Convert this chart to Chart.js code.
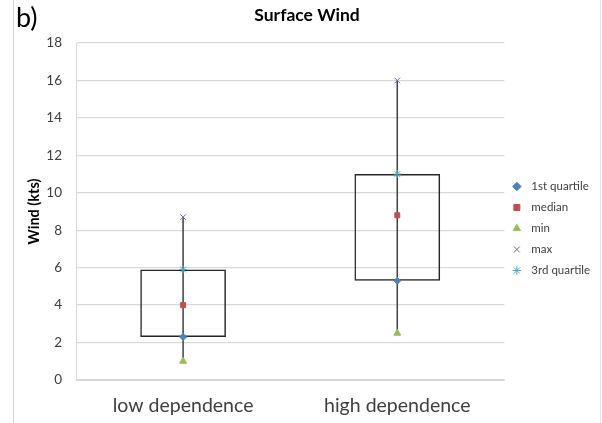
<!DOCTYPE html>
<html><head><meta charset="utf-8">
<script src="https://cdn.jsdelivr.net/npm/chart.js@4"></script>
<style>
html,body{margin:0;padding:0;background:#fff;}
#wrap{position:relative;width:602px;height:423px;overflow:hidden;}
#lbl{position:absolute;left:16px;top:1px;font:27px Lato, sans-serif;color:#000;line-height:32px;}
#bl{position:absolute;left:13px;top:0;width:1px;height:423px;background:#d4d4d4;}
#br{position:absolute;left:600px;top:0;width:1px;height:423px;background:#e4e4e4;}
canvas{position:absolute;left:0;top:0;}
</style></head>
<body><div id="wrap"><canvas id="c" width="602" height="423"></canvas><div id="bl"></div><div id="br"></div><div id="lbl">b)</div></div>
<script>
const categories = ['low dependence', 'high dependence'];
const q1 = [2.3, 5.3];
const median = [4.0, 8.8];
const minv = [1.0, 2.5];
const maxv = [8.7, 16.0];
const q3 = [5.9, 11.0];
const yTicks = [0, 2, 4, 6, 8, 10, 12, 14, 16, 18];

const FONT = 'Lato, "Open Sans", sans-serif';
const boxes = categories.map((c, i) => [q1[i], q3[i]]);
const whiskers = categories.map((c, i) => [minv[i], maxv[i]]);

const markerSet = (label, data, style, color, radius) => ({
  type: 'line', label, data, showLine: false,
  pointStyle: style, pointRadius: radius, pointHoverRadius: radius,
  backgroundColor: color, borderColor: color, pointBorderWidth: 1, order: 0
});

const legendShift = {
  id: 'legendShift',
  afterLayout(chart) {
    const lg = chart.legend;
    if (!lg) return;
    lg.top += 17; lg.bottom += 17;
  }
};

new Chart(document.getElementById('c'), {
  type: 'bar',
  data: {
    labels: categories,
    datasets: [
      { label: '_box', data: boxes, backgroundColor: 'rgba(0,0,0,0)', borderColor: '#262626', borderWidth: 1.5, borderSkipped: false, barPercentage: 0.4, categoryPercentage: 1, grouped: false, order: 3 },
      { label: '_whisker', data: whiskers, backgroundColor: '#404040', borderWidth: 0, barThickness: 1.5, grouped: false, inflateAmount: 0, order: 2 },
      markerSet('1st quartile', q1, 'rectRot', '#4F81BD', 3.5),
      markerSet('median', median, 'rect', '#C0504D', 3.5),
      markerSet('min', minv, 'triangle', '#9BBB59', 4),
      markerSet('max', maxv, 'crossRot', '#8064A2', 4),
      markerSet('3rd quartile', q3, 'star', '#4BACC6', 4)
    ]
  },
  plugins: [legendShift],
  options: {
    responsive: false, animation: false,
    layout: { padding: { left: 14, right: 2, top: 0, bottom: 0 } },
    plugins: {
      title: { display: true, text: 'Surface Wind', color: '#000', font: { family: FONT, size: 17.5, weight: 'bold' }, padding: { top: 5, bottom: 17 } },
      legend: {
        position: 'right',
        labels: {
          usePointStyle: true, boxWidth: 6, boxHeight: 6, padding: 9.5, color: '#404040',
          font: { family: FONT, size: 11.5 },
          generateLabels: chart => Chart.defaults.plugins.legend.labels.generateLabels(chart)
            .filter(it => !chart.data.datasets[it.datasetIndex].label.startsWith('_'))
            .map(it => Object.assign(it, { text: '\u2002' + it.text }))
        }
      },
      tooltip: { enabled: false }
    },
    scales: {
      x: {
        grid: { display: false, drawTicks: false },
        border: { display: true, color: '#d9d9d9', width: 1 },
        ticks: { color: '#404040', font: { family: FONT, size: 19.5 }, padding: 14 },
        afterFit: s => { s.height = 43; }
      },
      y: {
        min: 0, max: 18,
        afterBuildTicks: s => { s.ticks = yTicks.map(v => ({ value: v })); },
        grid: { color: '#d9d9d9', lineWidth: 1.3, drawTicks: false },
        border: { display: true, color: '#d9d9d9', width: 1 },
        ticks: { color: '#404040', font: { family: FONT, size: 13.5 }, padding: 14 },
        title: { display: true, text: 'Wind (kts)', color: '#000', font: { family: FONT, size: 14.5, weight: 'bold' }, padding: { top: 12, bottom: 0 } },
        afterFit: s => { s.width = 62; }
      }
    }
  }
});
</script>
</body></html>
